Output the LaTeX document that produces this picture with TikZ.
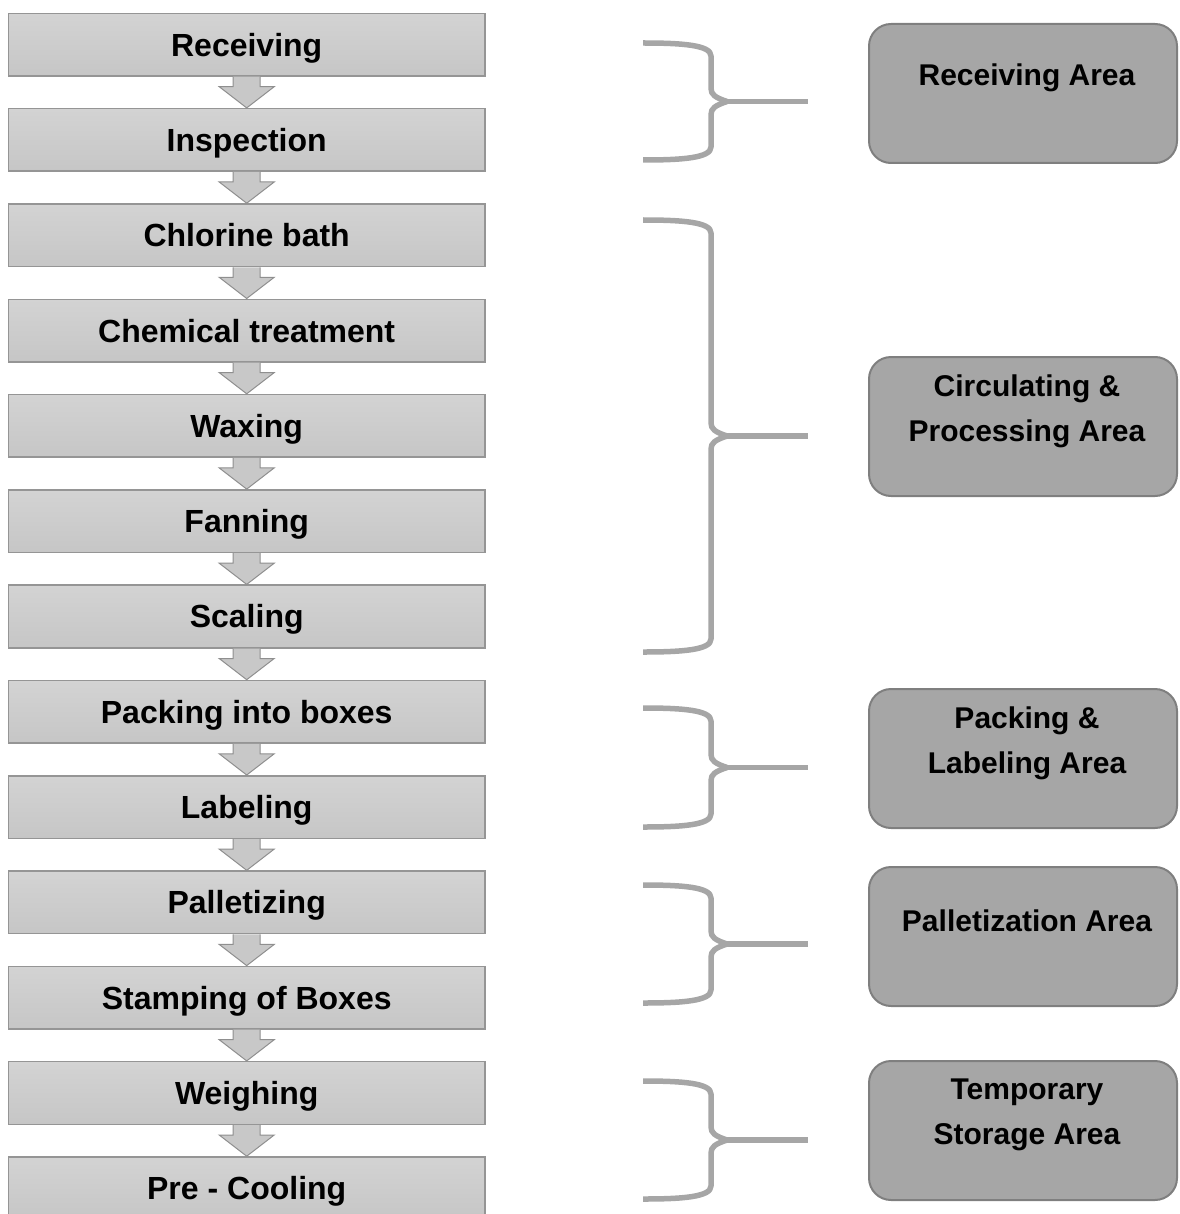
\documentclass[tikz,border=0pt]{standalone}
\usepackage{fontspec}
\setmainfont{Liberation Sans}
\usetikzlibrary{calc}
\definecolor{steptop}{HTML}{D3D3D3}
\definecolor{stepbot}{HTML}{C6C6C6}
\definecolor{stepline}{HTML}{959595}
\definecolor{arrowfill}{HTML}{C8C8C8}
\definecolor{arrowline}{HTML}{8F8F8F}
\definecolor{areafill}{HTML}{A6A6A6}
\definecolor{arealine}{HTML}{7F7F7F}
\definecolor{bracegray}{HTML}{A6A6A6}

\begin{document}
\begin{tikzpicture}[x=0.5pt,y=-0.5pt,
    stepbox/.style={draw=stepline,line width=0.75pt,top color=steptop,bottom color=stepbot,
      minimum width=238.3pt,minimum height=31.3pt,inner sep=0pt,
      text height=11.5pt,text depth=0pt,font=\fontsize{16}{19}\selectfont\bfseries},
    flowarrow/.style={draw=arrowline,fill=arrowfill,line width=0.5pt},
    areabox/.style={draw=arealine,fill=areafill,line width=1pt,rounded corners=11pt,
      minimum width=154pt,minimum height=69.5pt},
    areatext/.style={align=center,inner sep=0pt,font=\fontsize{15}{22.5}\selectfont\bfseries},
    bracestroke/.style={draw=bracegray,line width=2.75pt,line join=round}]
  \path[use as bounding box] (0,0) rectangle (1179,1214);
  \clip (0,0) rectangle (1179,1214);

  % process steps
  \foreach \lbl [count=\i] in {Receiving,Inspection,Chlorine bath,Chemical treatment,
      Waxing,Fanning,Scaling,Packing into boxes,Labeling,Palletizing,
      Stamping of Boxes,Weighing,Pre - Cooling}
    \node[stepbox] (s\i) at (246.7,{44.65+95.3*(\i-1)}) {\lbl};

  % block arrows between steps
  \foreach \i in {1,...,12}
    {\pgfmathtruncatemacro\j{\i+1}
     \filldraw[flowarrow] ($(s\i.south)+(-13.5,0)$) -- ($(s\i.south)+(-13.5,10)$)
       -- ($(s\i.south)+(-27.5,10)$) -- (s\j.north) -- ($(s\i.south)+(27.5,10)$)
       -- ($(s\i.south)+(13.5,10)$) -- ($(s\i.south)+(13.5,0)$);}

  % braces
  \foreach \ya/\yb in {43/160,220/652,708/827,885/1003,1081/1199}
    {\pgfmathsetmacro\ym{(\ya+\yb)/2}
     \draw[bracestroke] (643,\ya) .. controls (682,\ya) and (711,{\ya+2}) .. (711,{\ya+13})
       -- (711,{\ym-13}) .. controls (711,{\ym-7}) and (715,{\ym-4}) .. (727,\ym);
     \draw[bracestroke] (643,\yb) .. controls (682,\yb) and (711,{\yb-2}) .. (711,{\yb-13})
       -- (711,{\ym+13}) .. controls (711,{\ym+7}) and (715,{\ym+4}) .. (727,\ym);
     \draw[bracestroke] (724,\ym) -- (808,\ym);}

  % areas
  \foreach \cy/\txt [count=\k] in {93.5/{Receiving Area},
      426.5/{Circulating \&\\Processing Area},758.5/{Packing \&\\Labeling Area},
      936.5/{Palletization Area},1130.5/{Temporary\\Storage Area}}
    {\node[areabox] (a\k) at (1023,\cy) {};
     \node[areatext] (t\k) at ($(a\k.north)+(4,55)$) {\txt};}
\end{tikzpicture}
\end{document}
